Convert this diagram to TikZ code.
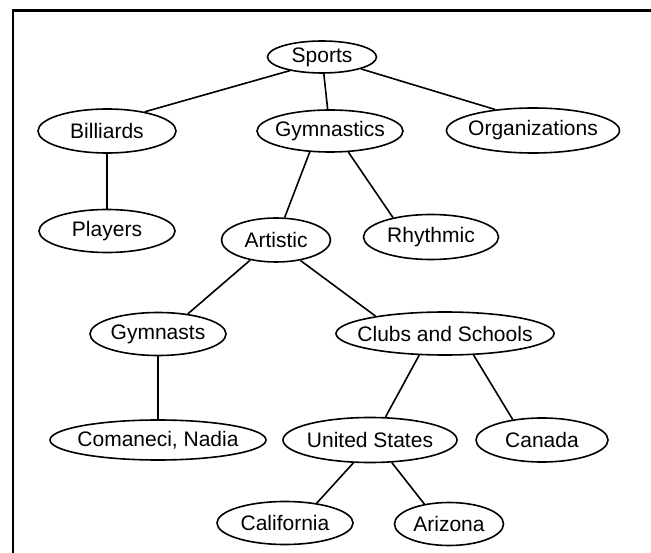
\documentclass[tikz,border=0pt]{standalone}
\usepackage{fontspec}
\setmainfont{Liberation Sans}
\usetikzlibrary{shapes.geometric, positioning}

% label that does not widen its ellipse
\newcommand{\tlabel}[1]{\makebox[0pt]{#1}}

\tikzset{
  topic/.style={ellipse, draw, line width=1.6pt, inner sep=0pt,
    minimum height=44, font=\fontsize{21}{24}\selectfont},
  branch/.style={line width=1.6pt}
}

\begin{document}
\begin{tikzpicture}[x=1pt, y=-1pt]
    \useasboundingbox (0,0) rectangle (651,553);
    \draw[line width=2.2pt] (651,10.5) -- (13,10.5) -- (13,553);

    % top levels
    \node[topic, minimum width=109, minimum height=32] (sports) at (322,57) {\tlabel{Sports}};
    \node[topic, minimum width=138] (billiards) at (107,131) {\tlabel{Billiards}};
    \node[topic, minimum width=146, minimum height=42] (gym) at (330,131) {\tlabel{Gymnastics}};
    \node[topic, minimum width=173, minimum height=45] (orgs) at (533,130.5) {\tlabel{Organizations}};
    \node[topic, minimum width=136, minimum height=43] (players) at (107,231) {\tlabel{Players}};
    \node[topic, minimum width=109] (artistic) at (276,240) {\tlabel{Artistic}};
    \node[topic, minimum width=135, minimum height=45] (rhythmic) at (431,237) {\tlabel{Rhythmic}};

    % artistic gymnastics
    \node[topic, minimum width=136, minimum height=43] (gymnasts) at (158,334) {\tlabel{Gymnasts}};
    \node[topic, minimum width=218, minimum height=43] (clubs) at (445,333.5) {\tlabel{Clubs and Schools}};
    \node[topic, minimum width=216, minimum height=40] (comaneci) at (158,440) {\tlabel{Comaneci, Nadia}};
    \node[topic, minimum width=174, minimum height=45] (us) at (370,440) {\tlabel{United States}};
    \node[topic, minimum width=132] (canada) at (542,440) {\tlabel{Canada}};
    \node[topic, minimum width=136, minimum height=43] (california) at (285,523) {\tlabel{California}};
    \node[topic, minimum width=109, minimum height=43] (arizona) at (449,524) {\tlabel{Arizona}};

    \draw[branch] (sports.203) -- (billiards.27);
    \draw[branch] (sports) -- (gym);
    \draw[branch] (sports.-17) -- (orgs.151);
    \draw[branch] (billiards) -- (players);
    \draw[branch] (gym.226) -- (artistic.69);
    \draw[branch] (gym.-49) -- (rhythmic.153);
    \draw[branch] (artistic.218) -- (gymnasts.34);
    \draw[branch] (artistic.-40) -- (clubs.166);
    \draw[branch] (gymnasts) -- (comaneci);
    \draw[branch] (clubs.220) -- (us.56);
    \draw[branch] (clubs.-37) -- (canada.145);
    \draw[branch] (us.234) -- (california.32);
    \draw[branch] (us.-46) -- (arizona.141);
\end{tikzpicture}
\end{document}
